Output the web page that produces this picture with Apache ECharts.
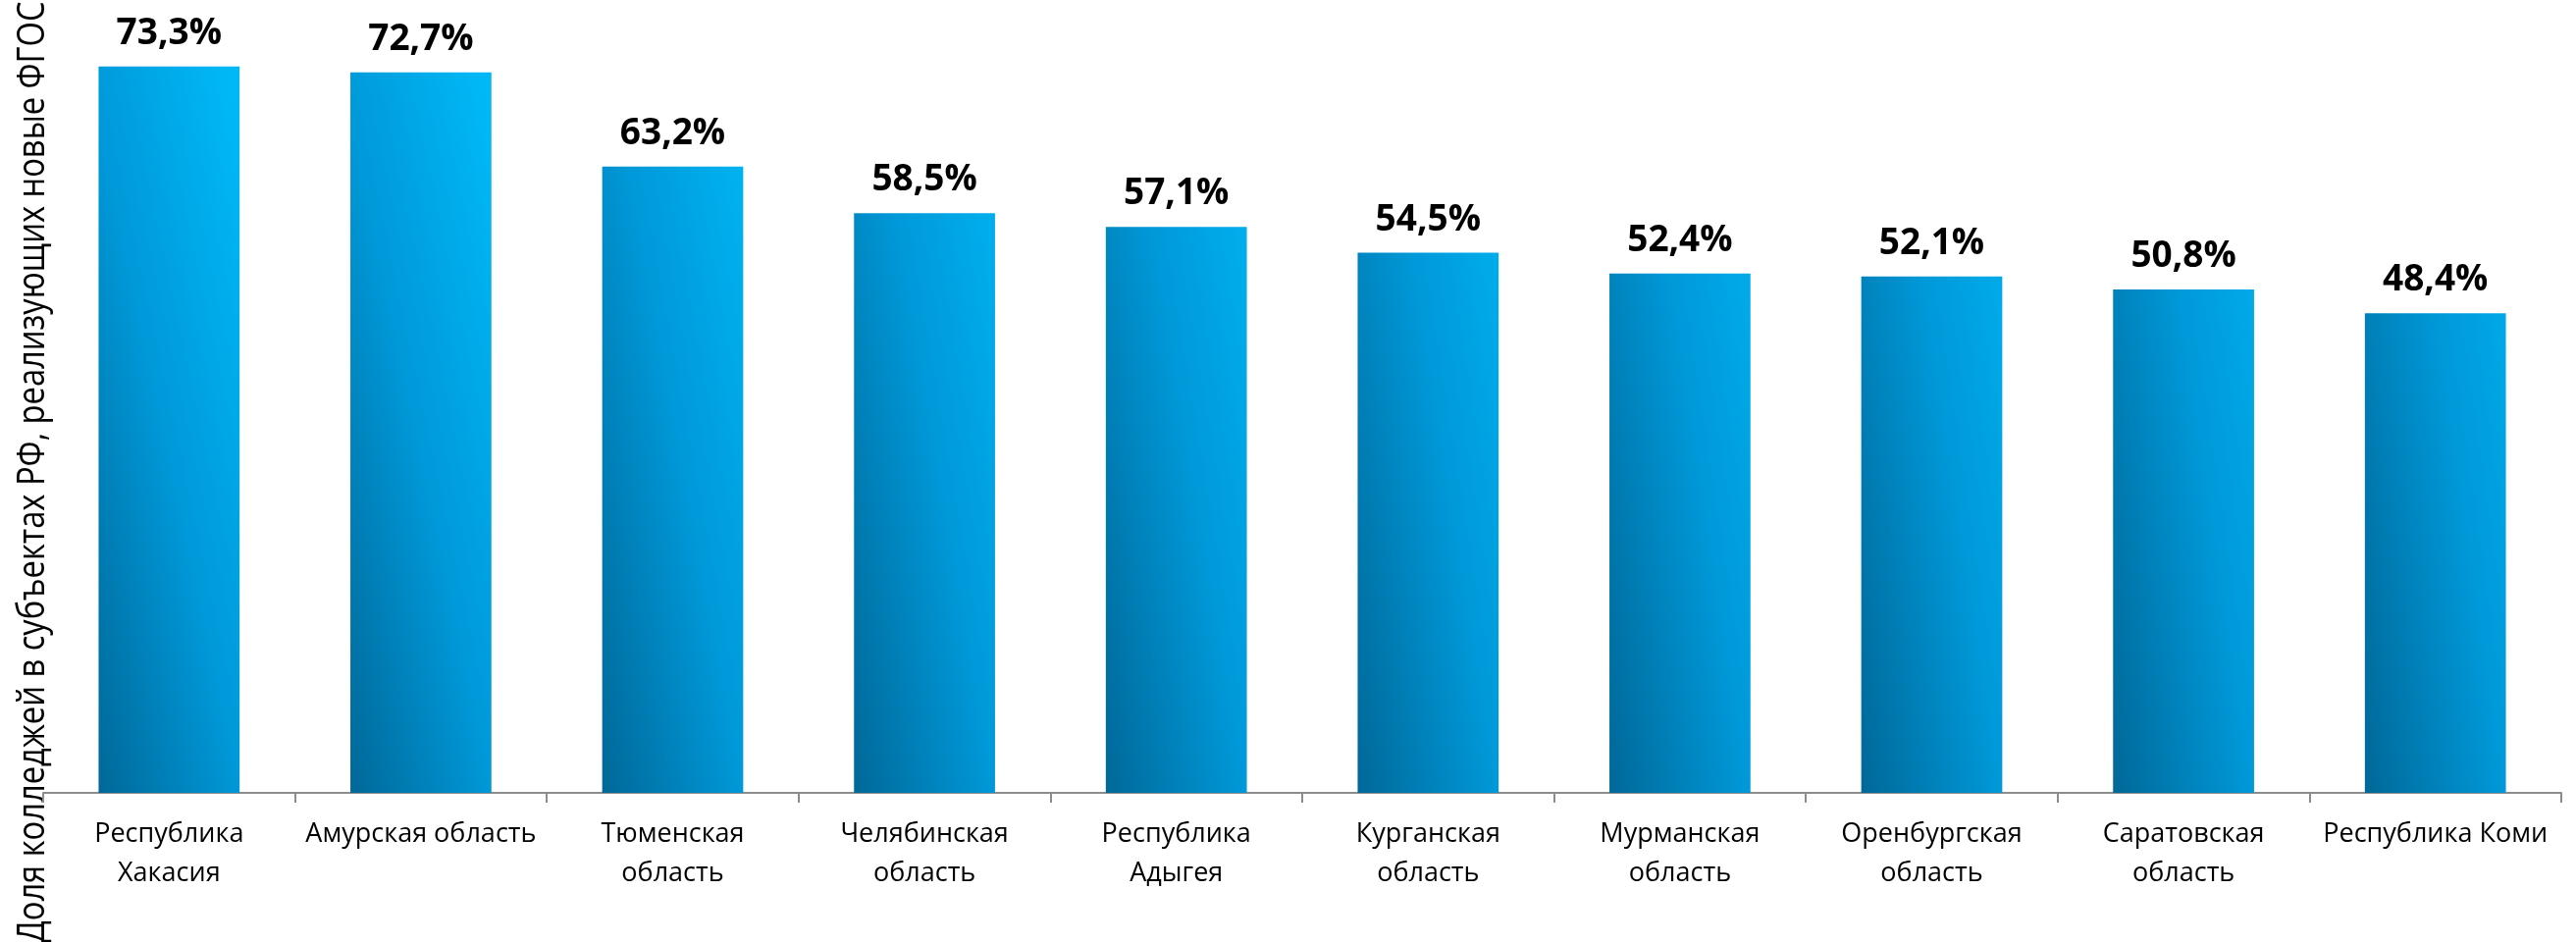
<!DOCTYPE html>
<html>
<head>
<meta charset="utf-8">
<script src="https://cdn.jsdelivr.net/npm/echarts@6/dist/echarts.min.js"></script>
<style>
html,body{margin:0;padding:0;background:#fff;}
#chart{width:2625px;height:960px;}
</style>
</head>
<body>
<div id="chart"></div>
<script>
const categories = [
  "Республика\nХакасия",
  "Амурская область",
  "Тюменская\nобласть",
  "Челябинская\nобласть",
  "Республика\nАдыгея",
  "Курганская\nобласть",
  "Мурманская\nобласть",
  "Оренбургская\nобласть",
  "Саратовская\nобласть",
  "Республика Коми"
];
const values = [73.3, 72.7, 63.2, 58.5, 57.1, 54.5, 52.4, 52.1, 50.8, 48.4];
const yAxisTitle = "Доля колледжей в субъектах РФ, реализующих новые ФГОС";

const chart = echarts.init(document.getElementById('chart'));
const barGradient = new echarts.graphic.LinearGradient(0, 1, 1.92, 0.92, [
  { offset: 0, color: '#006898' },
  { offset: 0.5, color: '#0098D8' },
  { offset: 1, color: '#00B8F6' }
]);
chart.setOption({
  animation: false,
  backgroundColor: '#ffffff',
  grid: { left: 44, right: 15, top: 0, bottom: 152, containLabel: false },
  xAxis: {
    type: 'category',
    data: categories,
    axisLine: { show: true, lineStyle: { color: '#8c8c8c', width: 2 } },
    axisTick: { show: true, length: 10, lineStyle: { color: '#8c8c8c', width: 2 } },
    axisLabel: {
      interval: 0,
      margin: 22,
      fontFamily: 'Open Sans',
      fontSize: 27,
      lineHeight: 40,
      color: '#000000'
    }
  },
  yAxis: {
    type: 'value',
    min: 0,
    max: 80,
    show: false
  },
  graphic: [{
    type: 'text',
    x: 34,
    y: 481,
    rotation: Math.PI / 2,
    scaleX: 0.86,
    style: {
      text: yAxisTitle,
      fontFamily: 'Open Sans',
      fontSize: 38,
      fill: '#000000',
      align: 'center',
      verticalAlign: 'middle'
    }
  }],
  series: [{
    type: 'bar',
    data: values,
    barCategoryGap: '44%',
    itemStyle: { color: barGradient },
    label: {
      show: true,
      position: 'top',
      distance: 15,
      fontFamily: 'Open Sans',
      fontWeight: 'bold',
      fontSize: 37,
      color: '#000000',
      formatter: function (p) { return p.value.toFixed(1).replace('.', ',') + '%'; }
    }
  }]
});
</script>
</body>
</html>
